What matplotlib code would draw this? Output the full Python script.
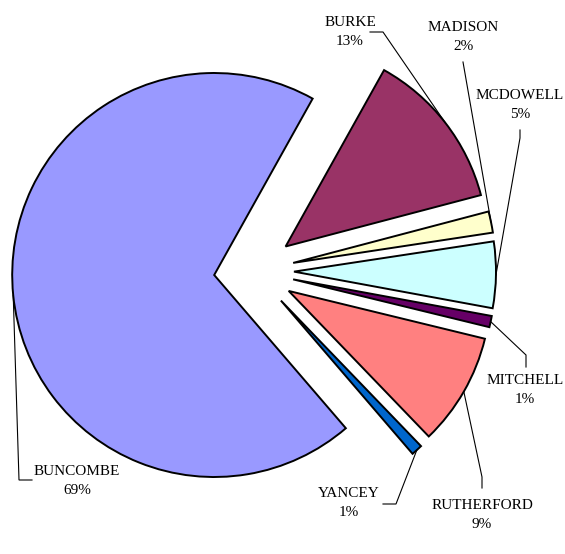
import numpy as np
import matplotlib.pyplot as plt

counties = ["BUNCOMBE", "BURKE", "MADISON", "MCDOWELL", "MITCHELL", "RUTHERFORD", "YANCEY"]
shares = [69.4, 12.8, 1.7, 5.3, 0.9, 9.0, 0.9]
colors = ["#9999FF", "#993366", "#FFFFCC", "#CCFFFF", "#660066", "#FF8080", "#0066CC"]

W, H = 565, 554

# label block centre (pixels, y down) and leader elbow points
label_pos = [(77, 481), (350, 32), (463, 37), (520, 105), (525, 390), (482, 515), (349, 503)]
elbows = [
    [(19, 480), (32, 480)],
    [(383, 32), (370, 32)],
    [(463, 62)],
    [(520, 138), (520, 130)],
    [(526, 355), (526, 367)],
    [(482, 477), (482, 488)],
    [(396, 504), (383, 504)],
]


def main():
    plt.rcParams['font.family'] = ['Liberation Serif', 'DejaVu Serif']
    fig = plt.figure(figsize=(W / 100, H / 100), dpi=100)
    ax = fig.add_axes([0, 0, 1, 1])

    total = sum(shares)
    start = 185.75 + 0.5 * shares[0] / total * 360
    radius = 202
    expl = 40
    wedges, _ = ax.pie(shares, colors=colors, startangle=start, counterclock=False,
                       radius=radius, center=(254, H - 271), explode=[expl] * len(shares),
                       wedgeprops=dict(edgecolor='black', linewidth=1.4))
    ax.set_xlim(0, W)
    ax.set_ylim(0, H)
    ax.set_aspect('equal')
    ax.axis('off')

    for w, name, v, pos, elb in zip(wedges, counties, shares, label_pos, elbows):
        mid = np.deg2rad(0.5 * (w.theta1 + w.theta2))
        cx, cy = w.center
        anchor = (cx + w.r * np.cos(mid), cy + w.r * np.sin(mid))
        pts = [anchor] + [(x, H - y) for x, y in elb]
        xs, ys = zip(*pts)
        ax.plot(xs, ys, color='black', lw=0.8, solid_joinstyle='miter')
        pct = round(v / total * 100)
        ax.text(pos[0], H - pos[1], f"{name}\n{pct}%", ha='center', va='center',
                multialignment='center', fontsize=11, linespacing=1.6)

    fig.savefig("out.png", dpi=100, facecolor='white')


if __name__ == "__main__":
    main()
